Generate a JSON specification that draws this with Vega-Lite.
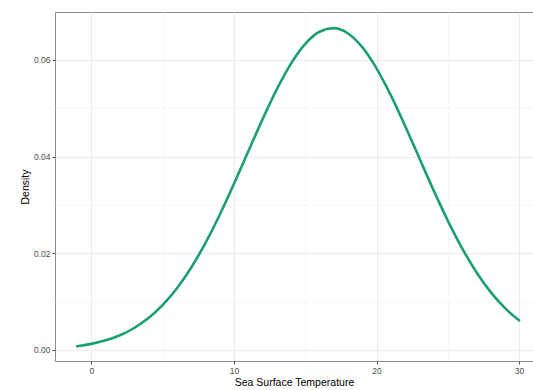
{
  "$schema": "https://vega.github.io/schema/vega-lite/v6.json",
  "autosize": {"type": "none"},
  "padding": {"left": 55, "top": 12, "right": 0, "bottom": 29},
  "width": 478,
  "height": 349,
  "background": "#FFFFFF",
  "config": {
    "font": "Liberation Sans",
    "view": {"stroke": "#8C8C8C", "strokeWidth": 1, "fill": "#FFFFFF"}
  },
  "data": {
    "values": [
      {"sst": -1, "density": 0.00078},
      {"sst": 0, "density": 0.00126},
      {"sst": 1, "density": 0.00199},
      {"sst": 2, "density": 0.00305},
      {"sst": 3, "density": 0.00455},
      {"sst": 4, "density": 0.0066},
      {"sst": 5, "density": 0.00932},
      {"sst": 6, "density": 0.01279},
      {"sst": 7, "density": 0.01707},
      {"sst": 8, "density": 0.02216},
      {"sst": 9, "density": 0.02799},
      {"sst": 10, "density": 0.03438},
      {"sst": 11, "density": 0.04107},
      {"sst": 12, "density": 0.04771},
      {"sst": 13, "density": 0.05392},
      {"sst": 14, "density": 0.05926},
      {"sst": 15, "density": 0.06334},
      {"sst": 16, "density": 0.06585},
      {"sst": 17, "density": 0.06659},
      {"sst": 18, "density": 0.06549},
      {"sst": 19, "density": 0.06265},
      {"sst": 20, "density": 0.05828},
      {"sst": 21, "density": 0.05273},
      {"sst": 22, "density": 0.04641},
      {"sst": 23, "density": 0.03972},
      {"sst": 24, "density": 0.03307},
      {"sst": 25, "density": 0.02677},
      {"sst": 26, "density": 0.02109},
      {"sst": 27, "density": 0.01615},
      {"sst": 28, "density": 0.01203},
      {"sst": 29, "density": 0.00872},
      {"sst": 30, "density": 0.00614}
    ]
  },
  "mark": {"type": "line", "color": "#1B9E77", "strokeWidth": 2.6, "interpolate": "monotone", "strokeCap": "round"},
  "encoding": {
    "x": {
      "field": "sst",
      "type": "quantitative",
      "scale": {"domain": [-2.56, 30.98], "nice": false, "zero": false},
      "axis": {
        "title": "Sea Surface Temperature",
        "values": [0, 5, 10, 15, 20, 25, 30],
        "labelExpr": "datum.value % 10 === 0 ? datum.label : ''",
        "domain": false,
        "grid": true,
        "gridColor": {"condition": {"test": "datum.value % 10 === 0", "value": "#EBEBEB"}, "value": "#F3F3F3"},
        "gridWidth": {"condition": {"test": "datum.value % 10 === 0", "value": 1}, "value": 0.7},
        "tickSize": 3,
        "tickColor": "#4D4D4D",
        "tickOpacity": {"condition": {"test": "datum.value % 10 === 0", "value": 1}, "value": 0},
        "labelColor": "#4D4D4D",
        "labelFontSize": 8.5,
        "labelPadding": 2,
        "titleColor": "#000000",
        "titleFontSize": 10.5,
        "titleFontWeight": "normal",
        "titlePadding": 3
      }
    },
    "y": {
      "field": "density",
      "type": "quantitative",
      "scale": {"domain": [-0.00228, 0.06993], "nice": false, "zero": false},
      "axis": {
        "title": "Density",
        "values": [0, 0.01, 0.02, 0.03, 0.04, 0.05, 0.06],
        "format": ".2f",
        "labelExpr": "round(datum.value * 100) % 2 === 0 ? datum.label : ''",
        "domain": false,
        "grid": true,
        "gridColor": {"condition": {"test": "round(datum.value * 100) % 2 === 0", "value": "#EBEBEB"}, "value": "#F3F3F3"},
        "gridWidth": {"condition": {"test": "round(datum.value * 100) % 2 === 0", "value": 1}, "value": 0.7},
        "tickSize": 3,
        "tickColor": "#4D4D4D",
        "tickOpacity": {"condition": {"test": "round(datum.value * 100) % 2 === 0", "value": 1}, "value": 0},
        "labelColor": "#4D4D4D",
        "labelFontSize": 8.5,
        "labelPadding": 2,
        "titleColor": "#000000",
        "titleFontSize": 10.5,
        "titleFontWeight": "normal",
        "titlePadding": 3
      }
    }
  }
}
